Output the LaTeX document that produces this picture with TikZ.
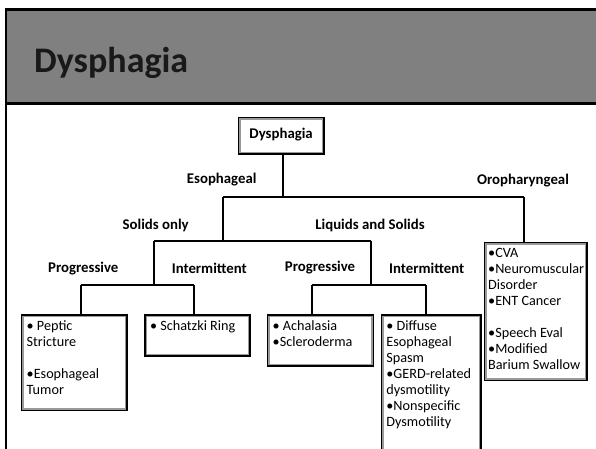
\documentclass[tikz,border=0pt]{standalone}
\usepackage{fontspec}
\setmainfont{Carlito}
\begin{document}
\begin{tikzpicture}[x=1pt,y=-1pt,
  lbl/.style={font=\fontsize{14.8}{16}\selectfont\bfseries, inner sep=0pt},
  boxframe/.style={draw=black, line width=1.8pt, fill=white, inner sep=0pt, anchor=north west},
  boxtext/.style={font=\fontsize{14.2}{16}\selectfont, anchor=north west, inner sep=0pt, align=left},
  wire/.style={draw=black, line width=2pt}
]
\clip (0,0) rectangle (596,448);
\useasboundingbox (0,0) rectangle (596,448);
% slide header
\fill[white] (0,0) rectangle (596,448);
\fill[fill={rgb,255:red,128;green,128;blue,128}] (5,8) rectangle (600,102);
\draw[black, line width=2.6pt] (5,9.3) -- (600,9.3);
\draw[black, line width=2.8pt] (5,103.3) -- (600,103.3);
\draw[black, line width=2pt] (6,8) -- (6,450);
\node[font=\fontsize{36}{42}\selectfont\bfseries, anchor=base west, inner sep=0pt, text=black!90] (title) at (34,72) {Dysphagia};

% root
\node[boxframe, minimum width=85pt, minimum height=35.7pt] (root) at (237.7,117) {};

% junction coordinates
\coordinate (jtop) at (282.7,196.7);
\coordinate (jeso) at (223,196.7);
\coordinate (joro) at (524.3,196.7);
\coordinate (jesod) at (223,240.7);
\coordinate (jsol) at (154.3,240.7);
\coordinate (jliq) at (371,240.7);
\coordinate (jsold) at (154.3,284.5);
\coordinate (jliqd) at (371,284.5);
\coordinate (jsp) at (80.7,284.5);
\coordinate (jsi) at (194.3,284.5);
\coordinate (jlp) at (312.3,284.5);
\coordinate (jli) at (425.7,284.5);

% leaf boxes
\node[boxframe, minimum width=104.7pt, minimum height=95pt] (peptic) at (21,314.3) {};
\node[boxframe, minimum width=104.4pt, minimum height=40.7pt] (schatzki) at (144.3,314.3) {};
\node[boxframe, minimum width=105.3pt, minimum height=50.7pt] (achal) at (267,314.3) {};
\node[boxframe, minimum width=99.3pt, minimum height=160pt] (diffuse) at (380.7,314.3) {};
\node[boxframe, minimum width=102pt, minimum height=137.6pt] (oro) at (484,241.7) {};

% inner gray frames
\foreach \n in {root,peptic,schatzki,achal,diffuse,oro}{
  \draw[gray!80, line width=1.4pt] ([shift={(2.1,2.1)}]\n.north west) rectangle ([shift={(-2.1,-2.1)}]\n.south east);
}
\node[font=\fontsize{14.8}{16}\selectfont\bfseries, inner sep=0pt] (roott) at ([yshift=1pt]root.center) {Dysphagia};

% connectors
\draw[wire] (root.south -| jtop) -- (jtop);
\draw[wire] (jeso) -- (joro);
\draw[wire] (jeso) -- (jesod);
\draw[wire] (jsol) -- (jliq);
\draw[wire] (jsol) -- (jsold);
\draw[wire] (jliq) -- (jliqd);
\draw[wire] (jsp) -- (jsi);
\draw[wire] (jlp) -- (jli);
\draw[wire] (jsp) -- (jsp |- peptic.north);
\draw[wire] (jsi) -- (jsi |- schatzki.north);
\draw[wire] (jlp) -- (jlp |- achal.north);
\draw[wire] (jli) -- (jli |- diffuse.north);
\draw[wire] (joro) -- (joro |- oro.north);

% labels
\node[lbl] (l1) at (221.7,180) {Esophageal};
\node[lbl] (l2) at (523,181) {Oropharyngeal};
\node[lbl] (l3) at (155.7,225) {Solids only};
\node[lbl] (l4) at (370,225) {Liquids and Solids};
\node[lbl] (l5) at (83.3,269) {Progressive};
\node[lbl] (l6) at (209.3,268) {Intermittent};
\node[lbl] (l7) at (320,268) {Progressive};
\node[lbl] (l8) at (426.7,268) {Intermittent};

% box texts
\node[boxtext] (tpeptic) at ([shift={(5.5,4.5)}]peptic.north west) {\strut• Peptic\\Stricture\\[16pt]•Esophageal\\Tumor};
\node[boxtext] (tschatzki) at ([shift={(5.5,4.5)}]schatzki.north west) {\strut• Schatzki Ring};
\node[boxtext] (tachal) at ([shift={(5.5,4.5)}]achal.north west) {\strut• Achalasia\\•Scleroderma};
\node[boxtext] (tdiffuse) at ([shift={(5.5,4.5)}]diffuse.north west) {\strut• Diffuse\\Esophageal\\Spasm\\•GERD-related\\dysmotility\\•Nonspecific\\Dysmotility};
\node[boxtext] (toro) at ([shift={(4,4.5)}]oro.north west) {\strut•CVA\\•Neuromuscular\\Disorder\\•ENT Cancer\\[16pt]•Speech Eval\\•Modified\\Barium Swallow};
\end{tikzpicture}
\end{document}
